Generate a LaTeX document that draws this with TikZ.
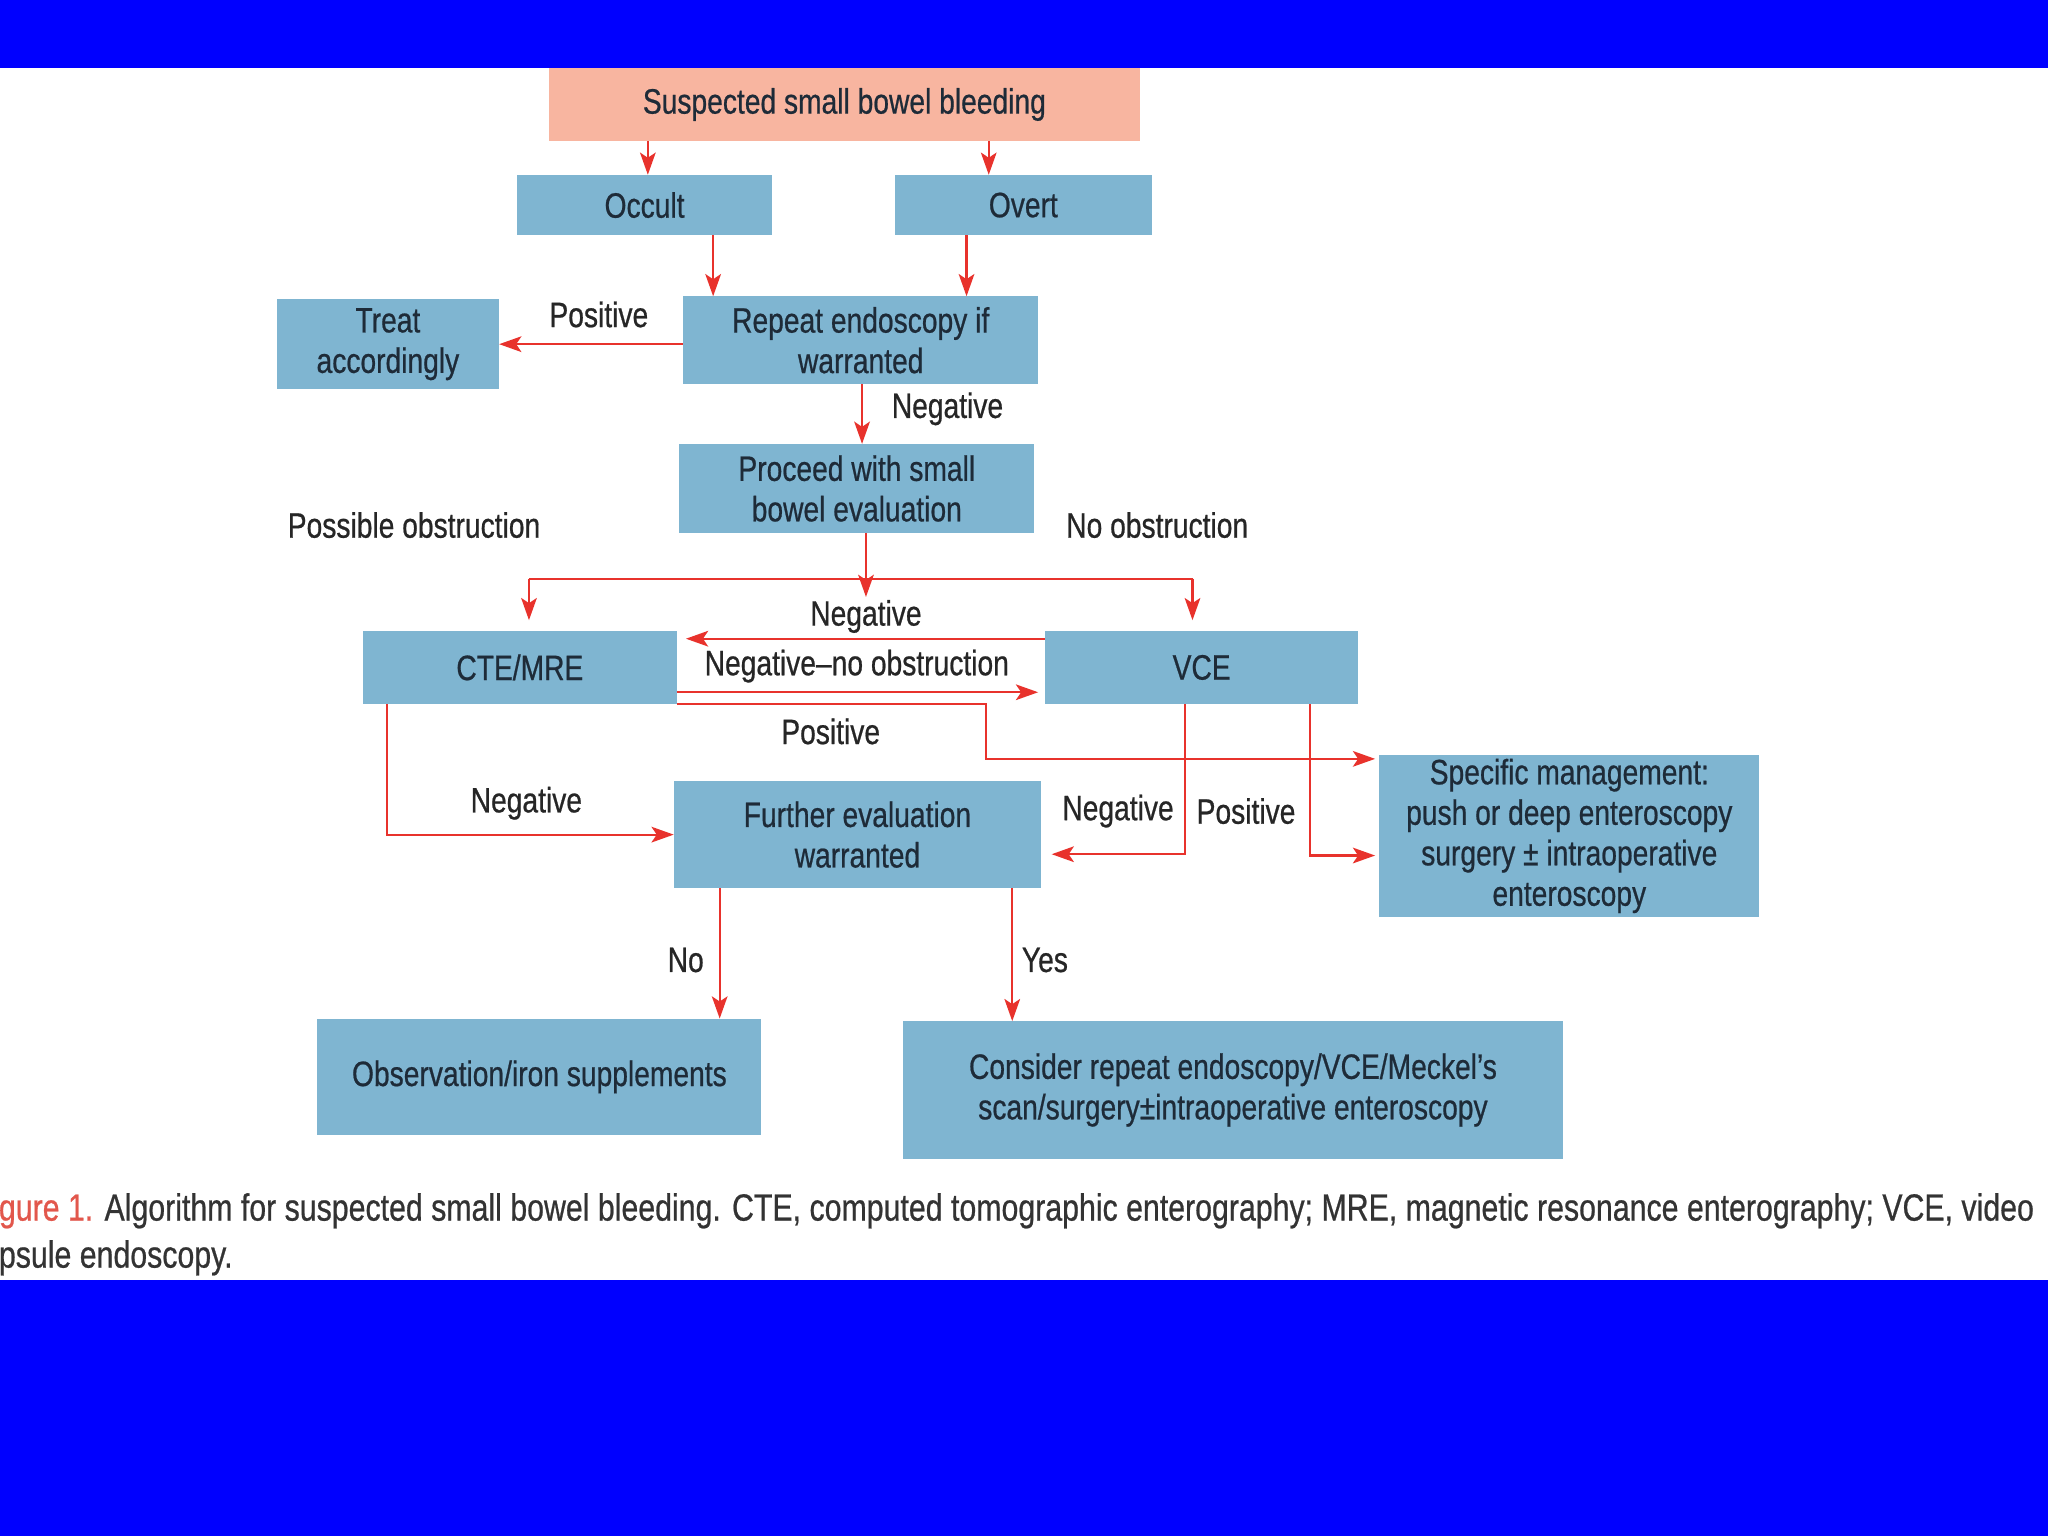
\documentclass[tikz,border=0pt]{standalone}
\usepackage{fontspec}
\setmainfont{Liberation Sans}[FakeStretch=0.8, RawFeature={embolden=0.6}]
\usepackage{tikz}
\usetikzlibrary{arrows.meta,calc}
\definecolor{boxblue}{HTML}{7FB5D1}
\definecolor{boxsalmon}{HTML}{F8B5A0}
\definecolor{txtdark}{HTML}{1E2B38}
\definecolor{arrred}{HTML}{E8322C}
\definecolor{capred}{HTML}{E2574C}
\definecolor{capgray}{HTML}{333333}
\tikzset{
	box/.style={fill=boxblue, text=txtdark, inner sep=0pt, align=center, font=\fontsize{27}{31}\selectfont},
	lbl/.style={text=black!85, inner sep=0pt, font=\fontsize{27}{31}\selectfont},
	arr/.style={draw=arrred, line width=1.6pt, -{Stealth[length=17pt,width=12pt,inset=4pt]}},
}

\begin{document}
\begin{tikzpicture}[x=1pt,y=-1pt]
			%%%%% START %%%%%
			\useasboundingbox (0,0) rectangle (1568,1176);
			\fill[white] (0,0) rectangle (1568,1176);
			\fill[blue] (0,0) rectangle (1568,52);
			\fill[blue] (0,980) rectangle (1568,1176);
			
			% boxes
			\node[box, fill=boxsalmon, minimum width=453pt, minimum height=56pt] (sus) at (646.5,80) {Suspected small bowel bleeding};
			\node[box, minimum width=195pt, minimum height=46pt] (occ) at (493.5,157) {Occult};
			\node[box, minimum width=197pt, minimum height=46pt] (ovt) at (783.5,157) {Overt};
			\node[box, minimum width=170pt, minimum height=69pt] (treat) at (297,263.5) {Treat\\accordingly};
			\node[box, minimum width=272pt, minimum height=67pt] (rep) at (659,260.5) {Repeat endoscopy if\\warranted};
			\node[box, minimum width=272pt, minimum height=68pt] (proc) at (656,374) {Proceed with small\\bowel evaluation};
			\node[box, minimum width=240pt, minimum height=56pt] (cte) at (398,511) {CTE/MRE};
			\node[box, minimum width=240pt, minimum height=56pt] (vce) at (920,511) {VCE};
			\node[box, minimum width=281pt, minimum height=82pt] (fur) at (656.5,639) {Further evaluation\\warranted};
			\node[box, minimum width=291pt, minimum height=124pt] (spec) at (1201.5,640) {Specific management:\\push or deep enteroscopy\\surgery ± intraoperative\\enteroscopy};
			\node[box, minimum width=340pt, minimum height=89pt] (obs) at (413,824.5) {Observation/iron supplements};
			\node[box, minimum width=506pt, minimum height=105pt] (cons) at (944,834.5) {Consider repeat endoscopy/VCE/Meckel's\\scan/surgery±intraoperative enteroscopy};
			
			% helper coordinates
			\coordinate (xocc) at (496,0);
			\coordinate (xovt) at (757,0);
			\coordinate (xoccd) at (546,0);
			\coordinate (xovtd) at (740,0);
			\coordinate (xrep) at (660,0);
			\coordinate (xproc) at (663,0);
			\coordinate (split) at (663,443);
			\coordinate (splitl) at (405,443);
			\coordinate (splitr) at (913,443);
			\coordinate (ytop) at (0,489);
			\coordinate (ybot) at (0,530);
			\coordinate (cpos) at (755,581);
			\coordinate (cneg) at (296,0);
			\coordinate (vneg) at (907,654);
			\coordinate (vpos) at (1003,655);
			\coordinate (xno) at (551,0);
			\coordinate (xyes) at (775,0);
			
			% connectors
			\draw[arr] (sus.south -| xocc) -- (occ.north -| xocc);
			\draw[arr] (sus.south -| xovt) -- (ovt.north -| xovt);
			\draw[arr] (occ.south -| xoccd) -- (rep.north -| xoccd);
			\draw[arr] (ovt.south -| xovtd) -- (rep.north -| xovtd);
			\draw[arr] (rep.west |- treat.east) -- node[lbl, above=12pt, xshift=6pt] (lpos1) {Positive} (treat.east);
			\draw[arr] (rep.south -| xrep) -- node[lbl, right=22pt, pos=0.5, yshift=4pt] (lneg1) {Negative} (proc.north -| xrep);
			\draw[arr] (proc.south -| xproc) -- ($(split)+(0,14)$);
			\draw[draw=arrred, line width=1.6pt] (splitl) -- (splitr);
			\draw[arr, shorten >=8pt] (splitl) -- (cte.north -| splitl);
			\draw[arr, shorten >=8pt] (splitr) -- (vce.north -| splitr);
			\draw[arr, shorten >=7pt] (vce.west |- ytop) -- (cte.east |- ytop);
			\draw[arr, shorten >=5pt] (cte.east |- ybot) -- (vce.west |- ybot);
			\draw[arr, shorten >=3pt] (cte.south east) -| (cpos) -- (spec.west |- cpos);
			\draw[arr] (cte.south -| cneg) |- (fur.west);
			\draw[arr, shorten >=8pt] (vce.south -| vneg) |- (fur.east |- vneg);
			\draw[arr, shorten >=3pt] (vce.south -| vpos) |- (spec.west |- vpos);
			\draw[arr] (fur.south -| xno) -- (obs.north -| xno);
			\draw[arr] (fur.south -| xyes) -- (cons.north -| xyes);
			
			% labels
			\node[lbl] (lposs) at (317,402) {Possible obstruction};
			\node[lbl] (lnoobs) at (886,402) {No obstruction};
			\node[lbl] (lneg2) at (663,472) {Negative};
			\node[lbl] (lnegno) at (656,510) {Negative--no obstruction};
			\node[lbl] (lpos2) at (636,560) {Positive};
			\node[lbl] (lneg3) at (403,615) {Negative};
			\node[lbl] (lneg4) at (856,621) {Negative};
			\node[lbl] (lpos3) at (954,621) {Positive};
			\node[lbl] (lno) at (525,735) {No};
			\node[lbl] (lyes) at (800,735) {Yes};
			
			% caption
			\node[anchor=west, inner sep=0pt, align=left, text=capgray, font=\fontsize{29}{36}\selectfont] (cap) at (-1,945) {\textcolor{capred}{gure 1.} Algorithm for suspected small bowel bleeding. CTE, computed tomographic enterography; MRE, magnetic resonance enterography; VCE, video\\psule endoscopy.};
			%%%%% END %%%%%
\end{tikzpicture}
\end{document}
